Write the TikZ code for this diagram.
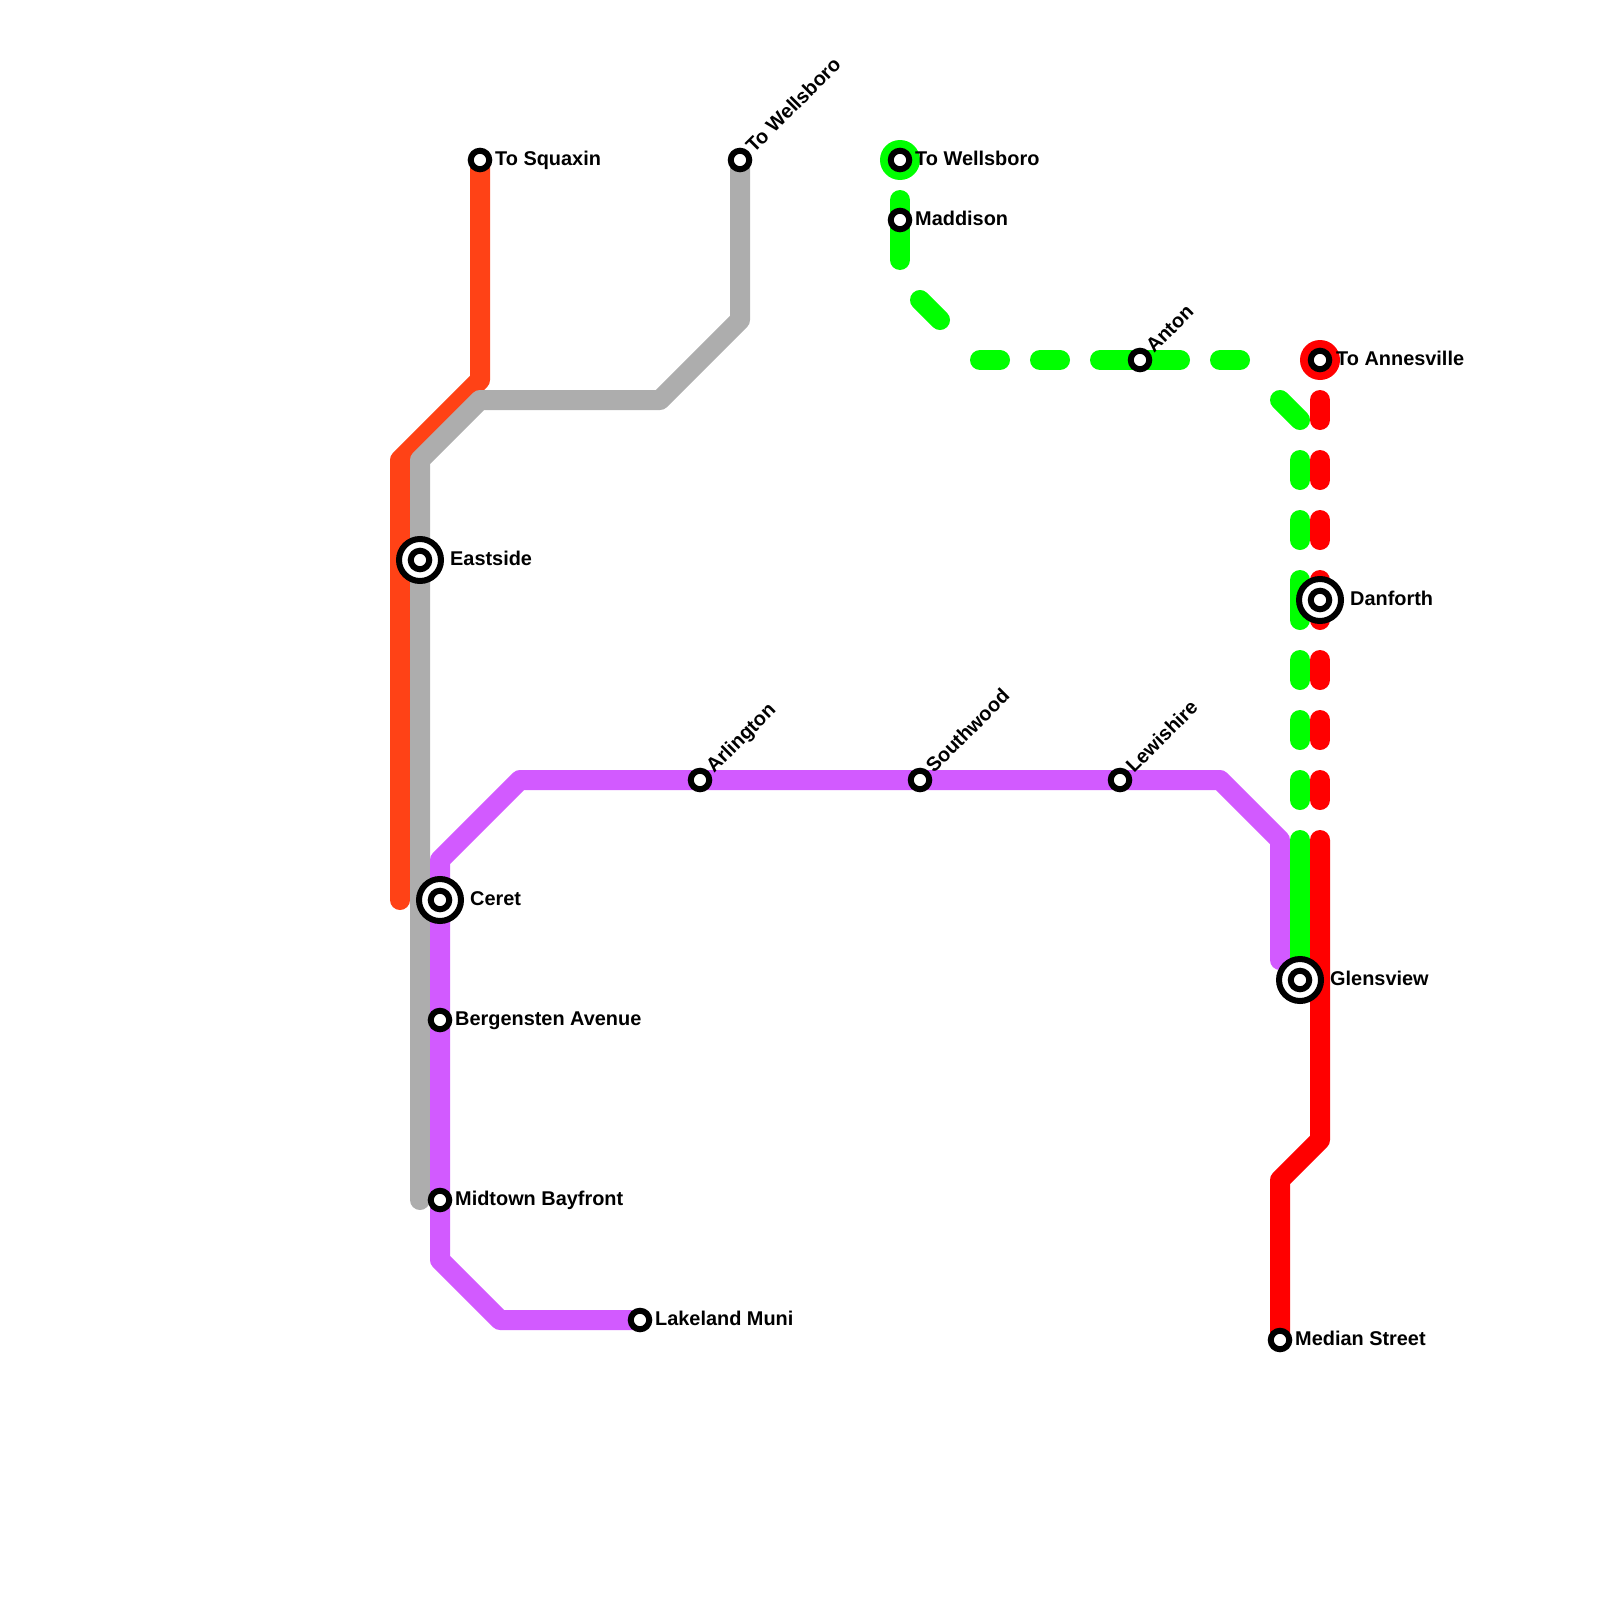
\documentclass[tikz,border=0pt]{standalone}
\usepackage{fontspec}
\setmainfont{Liberation Sans}[BoldFont={Liberation Sans Bold}]
\pgfdeclarelayer{lines}
\pgfsetlayers{lines,main}
\definecolor{cOrange}{HTML}{FF4216}
\definecolor{cGray}{HTML}{ADADAD}
\definecolor{cPurple}{HTML}{D25AFF}
\definecolor{cGreen}{HTML}{00FF00}
\definecolor{cRed}{HTML}{FF0000}
\tikzset{
  x=1pt,y=-1pt,
  metro/.style={line width=20pt,line cap=round,line join=round},
  stn/.style={circle,draw=black,fill=white,line width=6pt,minimum size=18.5pt,inner sep=0pt,outer sep=0pt},
  hub/.style={circle,draw=black,fill=white,line width=6pt,minimum size=42pt,inner sep=0pt,outer sep=0pt},
  lab/.style={anchor=base west,inner sep=0pt,font=\bfseries\fontsize{19.9}{24}\selectfont},
  rlab/.style={lab,rotate=45},
  term/.style={circle,minimum size=40pt,inner sep=0pt,outer sep=0pt}
}
\begin{document}
\begin{tikzpicture}
\useasboundingbox (0,0) rectangle (1600,1600);
% terminal discs
\node[term,fill=cGreen] (discG) at (900,160) {};
\node[term,fill=cRed] (discR) at (1320,360) {};
% hubs
\foreach \n/\x/\y in {eastside/420/560,ceret/440/900,glensview/1300/980,danforth/1320/600}{
  \node[hub] (\n) at (\x,\y) {};
  \node[stn] (\n in) at (\x,\y) {};
}
% plain stations
\foreach \n/\x/\y in {squaxin/480/160,wellsA/740/160,wellsB/900/160,maddison/900/220,anton/1140/360,annes/1320/360,bergen/440/1020,midtown/440/1200,lakeland/640/1320,arlington/700/780,southwood/920/780,lewishire/1120/780,median/1280/1340}{
  \node[stn] (\n) at (\x,\y) {};
}
% labels
\node[lab] (lSquaxin) at (495,165) {To Squaxin};
\node[lab] (lWellsB) at (915,165) {To Wellsboro};
\node[lab] (lMaddison) at (915,225) {Maddison};
\node[lab] (lAnnes) at (1336,365) {To Annesville};
\node[lab] (lEastside) at (450,565) {Eastside};
\node[lab] (lDanforth) at (1350,605) {Danforth};
\node[lab] (lCeret) at (470,905) {Ceret};
\node[lab] (lGlens) at (1330,985) {Glensview};
\node[lab] (lBergen) at (455,1025) {Bergensten Avenue};
\node[lab] (lMidtown) at (455,1205) {Midtown Bayfront};
\node[lab] (lLakeland) at (655,1325) {Lakeland Muni};
\node[lab] (lMedian) at (1295,1345) {Median Street};
\node[rlab] (lWellsA) at (754,154) {To Wellsboro};
\node[rlab] (lAnton) at (1154,354) {Anton};
\node[rlab] (lArl) at (714,774) {Arlington};
\node[rlab] (lSouth) at (934,774) {Southwood};
\node[rlab] (lLewis) at (1134,774) {Lewishire};
% waypoints
\coordinate (o0) at (400,900);
\coordinate (o1) at (400,460);
\coordinate (o2) at (480,380);
\coordinate (y0) at (420,1200);
\coordinate (y1) at (420,460);
\coordinate (y2) at (480,400);
\coordinate (y3) at (660,400);
\coordinate (y4) at (740,320);
\coordinate (p1) at (500,1320);
\coordinate (p2) at (440,1260);
\coordinate (p3) at (440,860);
\coordinate (p4) at (520,780);
\coordinate (p5) at (1220,780);
\coordinate (p6) at (1280,840);
\coordinate (p7) at (1280,960);
\coordinate (r1) at (1320,840);
\coordinate (r2) at (1320,1140);
\coordinate (r3) at (1280,1180);
\begin{pgfonlayer}{lines}
\draw[metro,cOrange] (o0) -- (o1) -- (o2) -- (squaxin.center);
\draw[metro,cGray] (y0) -- (y1) -- (y2) -- (y3) -- (y4) -- (wellsA.center);
\draw[metro,cPurple] (lakeland.center) -- (p1) -- (p2) -- (p3) -- (p4) -- (p5) -- (p6) -- (p7);
% green dashes
\foreach \n/\xa/\ya/\xb/\yb in {1/900/200/900/260,2/920/300/940/320,3/980/360/1000/360,4/1040/360/1060/360,5/1100/360/1180/360,6/1220/360/1240/360,7/1280/400/1300/420,8/1300/460/1300/480,9/1300/520/1300/540,10/1300/580/1300/620,11/1300/660/1300/680,12/1300/720/1300/740,13/1300/780/1300/800}{
  \coordinate (gs\n) at (\xa,\ya);
  \coordinate (ge\n) at (\xb,\yb);
  \draw[metro,cGreen] (gs\n) -- (ge\n);
}
\coordinate (g14) at (1300,840);
\draw[metro,cGreen] (g14) -- (glensview.center);
% red dashes
\foreach \n/\ya/\yb in {1/400/420,2/460/480,3/520/540,4/580/620,5/660/680,6/720/740,7/780/800}{
  \coordinate (rs\n) at (1320,\ya);
  \coordinate (re\n) at (1320,\yb);
  \draw[metro,cRed] (rs\n) -- (re\n);
}
\draw[metro,cRed] (r1) -- (r2) -- (r3) -- (median.center);
\end{pgfonlayer}
\end{tikzpicture}
\end{document}
